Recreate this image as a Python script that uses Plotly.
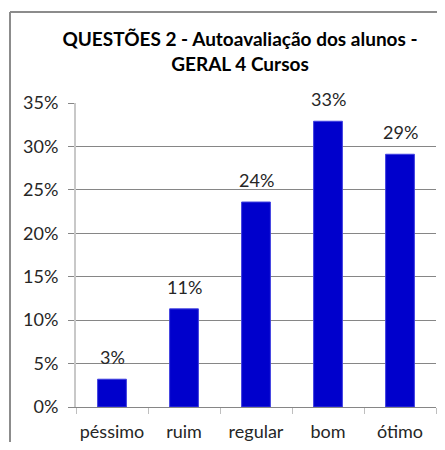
import plotly.graph_objects as go

categories = ["péssimo", "ruim", "regular", "bom", "ótimo"]
values = [0.032, 0.113, 0.236, 0.329, 0.291]
labels = ["3%", "11%", "24%", "33%", "29%"]
title_lines = ["QUESTÕES 2 - Autoavaliação dos alunos -", "GERAL 4 Cursos"]

FONT = "Lato"
TXT = "#262626"

fig = go.Figure()
fig.add_trace(go.Bar(
    x=categories, y=values, width=0.4,
    marker=dict(color="#0000CC", line=dict(color="#4040E0", width=1)),
    hoverinfo="skip",
))

for c, v, t in zip(categories, values, labels):
    fig.add_annotation(x=c, y=v, text=t, showarrow=False, yanchor="bottom",
                       yshift=9, font=dict(family=FONT, size=18, color=TXT))

OFF = 8  # page body margin (all sides)
W, H = 445 - 2 * OFF, 450 - 2 * OFF
# plot area in page pixels: x 76..436, y 103..407
L = 76 - OFF
R = W - (436 - OFF)
T = 103 - OFF
B = H - (407 - OFF)
pw, ph = W - L - R, H - T - B
def px(xp): return (xp - OFF - L) / pw
def py(yp): return (H - B - (yp - OFF)) / ph

# outer chart frame (only left and top edges are visible in the crop)
fig.add_shape(type="line", xref="paper", yref="paper",
              x0=px(10), x1=px(10), y0=py(12), y1=py(460),
              line=dict(color="#8C8C8C", width=2), layer="below")
fig.add_shape(type="line", xref="paper", yref="paper",
              x0=px(10), x1=px(460), y0=py(12), y1=py(12),
              line=dict(color="#8C8C8C", width=2), layer="below")

fig.update_layout(
    width=W, height=H,
    margin=dict(l=L, r=R, t=T, b=B, pad=0, autoexpand=False),
    paper_bgcolor="white", plot_bgcolor="white",
    showlegend=False,
    title=dict(text="<b>" + title_lines[0] + "<br>" + title_lines[1] + "</b>",
               x=(240 - OFF) / W, xanchor="center", xref="container",
               y=1 - 38 / H, yanchor="top", yref="container",
               font=dict(family=FONT, size=19, color="black")),
    font=dict(family=FONT, size=18, color=TXT),
    xaxis=dict(type="category", tickson="boundaries", ticks="outside", ticklen=6,
               tickcolor="#BFBFBF", tickwidth=1, showgrid=False, tickangle=0,
               automargin=False, ticklabelstandoff=8,
               showline=True, linecolor="#868686", linewidth=1,
               tickfont=dict(family=FONT, size=18, color=TXT)),
    yaxis=dict(range=[0, 0.35], dtick=0.05, tickformat=".0%", automargin=False,
               ticklabelstandoff=6,
               showgrid=True, gridcolor="#868686", gridwidth=1,
               ticks="outside", ticklen=6, tickcolor="#868686",
               showline=True, linecolor="#C8C8C8", linewidth=2,
               zeroline=False,
               tickfont=dict(family=FONT, size=18, color=TXT)),
)

fig.write_html("out.html")
